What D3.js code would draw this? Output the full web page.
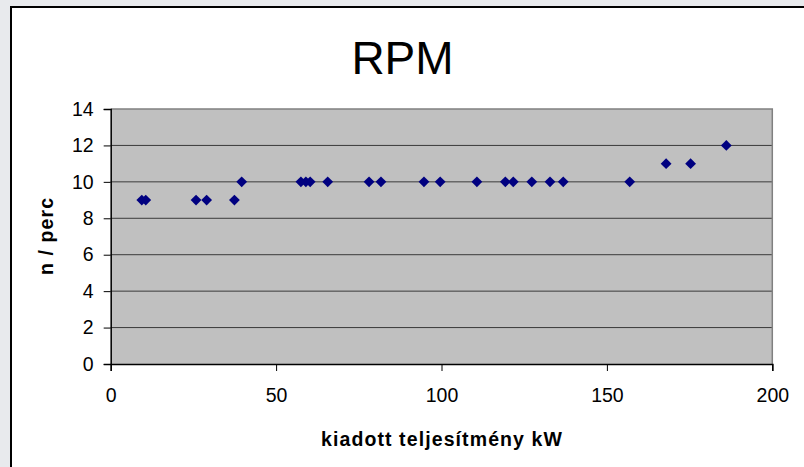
<!DOCTYPE html>
<html><head><meta charset="utf-8">
<script src="https://cdn.jsdelivr.net/npm/d3@7"></script>
<style>
html,body{margin:0;padding:0;background:#e8eaed;overflow:hidden;}
svg{display:block;font-family:"Liberation Sans",Arial,sans-serif;}
</style></head>
<body>
<svg id="c" width="804" height="467"></svg>
<script>
const title = "RPM";
const xTitle = "kiadott teljesítmény kW";
const yTitle = "n / perc";
const powerKW = [9.4, 10.6, 25.8, 29.0, 37.4, 39.6, 57.5, 59.0, 60.3, 65.6, 78.1, 81.7, 94.7, 99.6, 110.7, 119.3, 121.7, 127.3, 132.8, 136.8, 156.9, 167.9, 175.3, 186.1];
const rpm     = [9,   9,    9,    9,    9,    10,   10,   10,   10,   10,   10,   10,   10,   10,   10,    10,    10,    10,    10,    10,    10,    11,    11,    12];
const xTicks = [0, 50, 100, 150, 200];
const yTicks = [0, 2, 4, 6, 8, 10, 12, 14];

const svg = d3.select("#c");
// chart area
svg.append("rect").attr("x", 11).attr("y", 7).attr("width", 830).attr("height", 500)
  .attr("fill", "#fff").attr("stroke", "#000").attr("stroke-width", 2);

const L = 110.7, R = 772.3, T = 109, B = 364;
const x = d3.scaleLinear().domain([0, 200]).range([L, R]);
const y = d3.scaleLinear().domain([0, 14]).range([B, T]);

svg.append("rect").attr("x", L).attr("y", T).attr("width", R - L).attr("height", B - T)
  .attr("fill", "#c0c0c0");

// gridlines
svg.append("g").selectAll("line").data(yTicks.filter(d => d > 0 && d < 14)).join("line")
  .attr("x1", L).attr("x2", R).attr("y1", d => y(d)).attr("y2", d => y(d))
  .attr("stroke", "#3a3a3a").attr("stroke-width", 1);
// top/right border
svg.append("path").attr("d", `M${L},${T}H${R}V${B}`).attr("fill", "none")
  .attr("stroke", "#808080").attr("stroke-width", 1.5);

const yAxis = svg.append("g").attr("transform", `translate(${L},0)`)
  .call(d3.axisLeft(y).tickValues(yTicks).tickSize(7).tickPadding(10));
const xAxis = svg.append("g").attr("transform", `translate(0,${B})`)
  .call(d3.axisBottom(x).tickValues(xTicks).tickSize(7).tickPadding(17));
[yAxis, xAxis].forEach(a => {
  a.select(".domain").attr("stroke", "#000").attr("stroke-width", 1.5);
  a.selectAll(".tick line").attr("stroke", "#000").attr("stroke-width", 1);
  a.selectAll("text").attr("font-size", 19.5).attr("fill", "#000")
    .attr("font-family", "Liberation Sans, Arial, sans-serif");
});

// markers
const diamond = {draw(ctx){const r = 5.4; ctx.moveTo(0,-r); ctx.lineTo(r,0); ctx.lineTo(0,r); ctx.lineTo(-r,0); ctx.closePath();}};
svg.append("g").selectAll("path").data(powerKW.map((p, i) => [p, rpm[i]])).join("path")
  .attr("transform", d => `translate(${x(d[0])},${y(d[1])})`)
  .attr("d", d3.symbol().type(diamond).size(1))
  .attr("fill", "#000080");

// titles
svg.append("text").attr("x", 402.5).attr("y", 73.5).attr("text-anchor", "middle")
  .attr("font-size", 46).text(title);
svg.append("text").attr("x", 442).attr("y", 446).attr("text-anchor", "middle")
  .attr("font-size", 19.5).attr("font-weight", "bold").attr("letter-spacing", 1.1).text(xTitle);
svg.append("text").attr("transform", "translate(53,236) rotate(-90)").attr("text-anchor", "middle")
  .attr("font-size", 19.5).attr("font-weight", "bold").attr("letter-spacing", 1.1).text(yTitle);
</script>
</body></html>
